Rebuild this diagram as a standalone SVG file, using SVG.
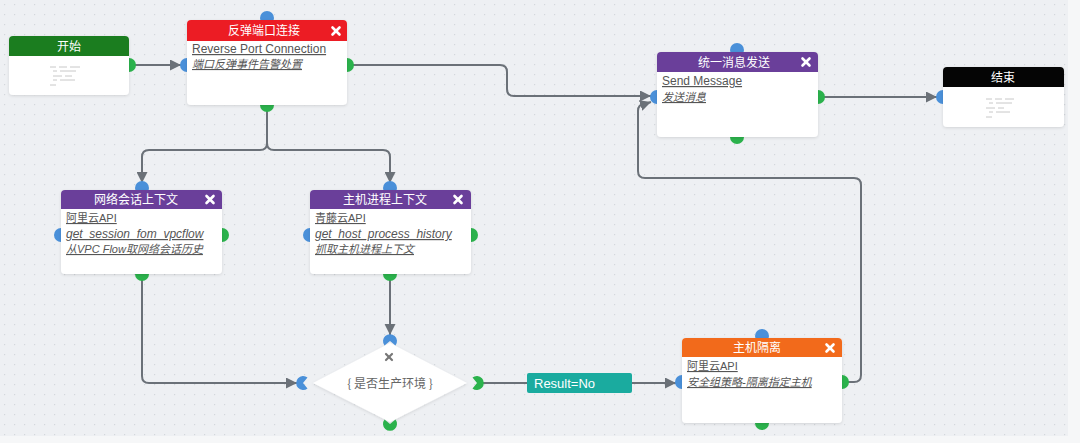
<svg xmlns="http://www.w3.org/2000/svg" width="1080" height="443" viewBox="0 0 1080 443">
<defs>
<pattern id="dots" width="10" height="10" patternUnits="userSpaceOnUse">
<rect x="4" y="4" width="1.2" height="1.2" fill="#d3d7dc"/>
</pattern>
<marker id="arr" viewBox="0 0 10 10" refX="10" refY="5" markerWidth="11" markerHeight="11" markerUnits="userSpaceOnUse" orient="auto">
<path d="M0,0 L10,5 L0,10 z" fill="#6b7178"/>
</marker>
<filter id="sh" x="-10%" y="-10%" width="120%" height="130%">
<feDropShadow dx="0" dy="1" stdDeviation="1.5" flood-color="#000" flood-opacity="0.12"/>
</filter>
</defs>
<style>
.hd{font-family:"Noto Sans CJK SC","Liberation Sans",sans-serif;font-size:12px;fill:#fff;text-anchor:middle}
.tx{font-family:"Liberation Sans","Noto Sans CJK SC",sans-serif;font-size:12px;fill:#555;text-decoration:underline}
.cj{font-size:11px}
.it{font-style:italic}
.body{fill:#fff}
.in{fill:#4a90d9}
.out{fill:#2bb24c}
.cx{stroke:#fff;stroke-width:2.6;stroke-linecap:round}
.ln{fill:none;stroke:#6b7178;stroke-width:2}
.ph{stroke:#c8c8c8;stroke-width:1}
</style>
<rect width="1080" height="443" fill="#eef0f3"/>
<rect width="1068" height="436" fill="url(#dots)"/>
<rect x="1068" y="0" width="12" height="443" fill="#f6f7f8"/>
<rect x="0" y="436" width="1080" height="7" fill="#f6f7f8"/>

<g id="connectors">
<path class="ln" d="M135,65 H181" marker-end="url(#arr)"/>
<path class="ln" d="M353,65 H500 Q507,65 507,72 V89 Q507,96 514,96 H651" marker-end="url(#arr)"/>
<path class="ln" d="M848,382 H854 Q861,382 861,375 V185 Q861,178 854,178 H645 Q638,178 638,171 V111 Q638,104 645,104 L651,102" marker-end="url(#arr)"/>
<path class="ln" d="M824,97 H937" marker-end="url(#arr)"/>
<path class="ln" d="M267,111 V143 Q267,150 260,150 H149 Q142,150 142,157 V183" marker-end="url(#arr)"/>
<path class="ln" d="M267,143 Q267,150 274,150 H383 Q390,150 390,157 V183" marker-end="url(#arr)"/>
<path class="ln" d="M142,280 V376 Q142,383 149,383 H297" marker-end="url(#arr)"/>
<path class="ln" d="M390,280 V335" marker-end="url(#arr)"/>
<path class="ln" d="M483,383 H527"/>
<path class="ln" d="M632,383 H676" marker-end="url(#arr)"/>
</g>

<g id="start">
<circle class="out" cx="129" cy="65" r="7"/>
<rect x="9" y="36" width="120" height="59" rx="4" class="body" filter="url(#sh)"/>
<path d="M9,56 V40 Q9,36 13,36 H125 Q129,36 129,40 V56 z" fill="#1b7d1f"/>
<text class="hd" x="69" y="50.5">开始</text>
<g class="ph">
<line x1="50" y1="67" x2="56" y2="67"/><line x1="59" y1="67" x2="67" y2="67"/><line x1="70" y1="67" x2="80" y2="67"/>
<line x1="53" y1="71" x2="57" y2="71"/><line x1="60" y1="71" x2="76" y2="71"/>
<line x1="53" y1="76" x2="62" y2="76"/><line x1="65" y1="76" x2="72" y2="76"/>
<line x1="53" y1="80" x2="57" y2="80"/><line x1="60" y1="80" x2="75" y2="80"/>
<line x1="50" y1="85" x2="56" y2="85"/>
</g>
</g>

<g id="reverse-port">
<circle class="in" cx="267" cy="18" r="7"/>
<circle class="in" cx="187" cy="65" r="7"/>
<circle class="out" cx="347" cy="65" r="7"/>
<circle class="out" cx="267" cy="105" r="7"/>
<rect x="187" y="20" width="160" height="85" rx="4" class="body" filter="url(#sh)"/>
<path d="M187,41 V24 Q187,20 191,20 H343 Q347,20 347,24 V41 z" fill="#ec1c24"/>
<text class="hd" x="264" y="35">反弹端口连接</text>
<g transform="translate(336,31)"><line class="cx" x1="-3.5" y1="-3.5" x2="3.5" y2="3.5"/><line class="cx" x1="3.5" y1="-3.5" x2="-3.5" y2="3.5"/></g>
<text class="tx" x="192" y="53">Reverse Port Connection</text>
<text class="tx it cj" x="192" y="68">端口反弹事件告警处置</text>
</g>

<g id="send-message">
<circle class="in" cx="737" cy="50" r="7"/>
<circle class="in" cx="657" cy="97" r="7"/>
<circle class="out" cx="818" cy="97" r="7"/>
<circle class="out" cx="737" cy="137" r="7"/>
<rect x="657" y="52" width="161" height="85" rx="4" class="body" filter="url(#sh)"/>
<path d="M657,72 V56 Q657,52 661,52 H814 Q818,52 818,56 V72 z" fill="#6a3f9a"/>
<text class="hd" x="734" y="66.5">统一消息发送</text>
<g transform="translate(806,62)"><line class="cx" x1="-3.5" y1="-3.5" x2="3.5" y2="3.5"/><line class="cx" x1="3.5" y1="-3.5" x2="-3.5" y2="3.5"/></g>
<text class="tx" x="662" y="85">Send Message</text>
<text class="tx it cj" x="662" y="101">发送消息</text>
</g>

<g id="end">
<circle class="in" cx="943" cy="97" r="7"/>
<rect x="943" y="67" width="121" height="60" rx="4" class="body" filter="url(#sh)"/>
<path d="M943,87 V71 Q943,67 947,67 H1060 Q1064,67 1064,71 V87 z" fill="#050505"/>
<text class="hd" x="1003" y="81.5">结束</text>
<g class="ph">
<line x1="986" y1="99" x2="992" y2="99"/><line x1="995" y1="99" x2="1002" y2="99"/><line x1="1005" y1="99" x2="1014" y2="99"/>
<line x1="989" y1="103" x2="993" y2="103"/><line x1="996" y1="103" x2="1012" y2="103"/>
<line x1="986" y1="108" x2="995" y2="108"/><line x1="998" y1="108" x2="1004" y2="108"/>
<line x1="989" y1="112" x2="993" y2="112"/><line x1="996" y1="112" x2="1010" y2="112"/>
<line x1="986" y1="117" x2="992" y2="117"/>
</g>
</g>

<g id="network-session">
<circle class="in" cx="142" cy="188" r="7"/>
<circle class="in" cx="61" cy="235" r="7"/>
<circle class="out" cx="222" cy="235" r="7"/>
<circle class="out" cx="142" cy="274" r="7"/>
<rect x="61" y="190" width="161" height="84" rx="4" class="body" filter="url(#sh)"/>
<path d="M61,209 V194 Q61,190 65,190 H218 Q222,190 222,194 V209 z" fill="#6a3f9a"/>
<text class="hd" x="136" y="204">网络会话上下文</text>
<g transform="translate(210,199.5)"><line class="cx" x1="-3.5" y1="-3.5" x2="3.5" y2="3.5"/><line class="cx" x1="3.5" y1="-3.5" x2="-3.5" y2="3.5"/></g>
<text class="tx cj" x="66" y="222">阿里云API</text>
<text class="tx it" x="66" y="238">get_session_fom_vpcflow</text>
<text class="tx it cj" x="66" y="253">从VPC Flow取网络会话历史</text>
</g>

<g id="host-process">
<circle class="in" cx="390" cy="188" r="7"/>
<circle class="in" cx="310" cy="235" r="7"/>
<circle class="out" cx="471" cy="235" r="7"/>
<circle class="out" cx="390" cy="274" r="7"/>
<rect x="310" y="190" width="161" height="84" rx="4" class="body" filter="url(#sh)"/>
<path d="M310,209 V194 Q310,190 314,190 H467 Q471,190 471,194 V209 z" fill="#6a3f9a"/>
<text class="hd" x="385" y="204">主机进程上下文</text>
<g transform="translate(458,199.5)"><line class="cx" x1="-3.5" y1="-3.5" x2="3.5" y2="3.5"/><line class="cx" x1="3.5" y1="-3.5" x2="-3.5" y2="3.5"/></g>
<text class="tx cj" x="315" y="222">青藤云API</text>
<text class="tx it" x="315" y="238">get_host_process_history</text>
<text class="tx it cj" x="315" y="253">抓取主机进程上下文</text>
</g>

<g id="decision">
<path d="M390,343 L467,383 L390,422 L313,383 z" fill="#fff" filter="url(#sh)"/>
<path class="in" d="M390,341 L384.5,345.5 A7,7 0 1 1 395.5,345.5 z"/>
<path class="in" d="M303,383 L307.5,377.5 A7,7 0 1 0 307.5,388.5 z"/>
<path class="out" d="M477,383 L472.5,377.5 A7,7 0 1 1 472.5,388.5 z"/>
<path class="out" d="M390,424 L384.5,419.5 A7,7 0 1 0 395.5,419.5 z"/>
<g transform="translate(389,357)"><line x1="-3" y1="-3" x2="3" y2="3" stroke="#777" stroke-width="2.2" stroke-linecap="round"/><line x1="3" y1="-3" x2="-3" y2="3" stroke="#777" stroke-width="2.2" stroke-linecap="round"/></g>
<text x="390" y="387.5" font-family="Noto Sans CJK SC,Liberation Sans,sans-serif" font-size="12" fill="#666" text-anchor="middle">{ 是否生产环境 }</text>
</g>

<g id="result-label">
<rect x="527" y="373" width="105" height="20" rx="2" fill="#1aab9f"/>
<text x="534" y="388" font-family="Liberation Sans,sans-serif" font-size="13" fill="#fff">Result=No</text>
</g>

<g id="host-isolate">
<circle class="in" cx="762" cy="336" r="7"/>
<circle class="in" cx="682" cy="382" r="7"/>
<circle class="out" cx="842" cy="382" r="7"/>
<circle class="out" cx="762" cy="423" r="7"/>
<rect x="682" y="338" width="160" height="85" rx="4" class="body" filter="url(#sh)"/>
<path d="M682,357 V342 Q682,338 686,338 H838 Q842,338 842,342 V357 z" fill="#f26a1b"/>
<text class="hd" x="757" y="352">主机隔离</text>
<g transform="translate(830,348)"><line class="cx" x1="-3.5" y1="-3.5" x2="3.5" y2="3.5"/><line class="cx" x1="3.5" y1="-3.5" x2="-3.5" y2="3.5"/></g>
<text class="tx cj" x="687" y="370">阿里云API</text>
<text class="tx it cj" x="687" y="386">安全组策略-隔离指定主机</text>
</g>
</svg>
